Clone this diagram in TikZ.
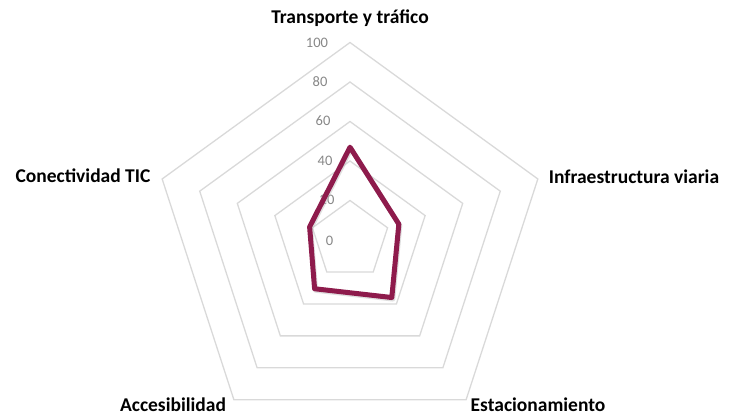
\documentclass[tikz,border=0pt]{standalone}
\usepackage{fontspec}
\setmainfont{Carlito}
\definecolor{gridgray}{RGB}{217,217,217}
\definecolor{numgray}{RGB}{135,135,135}
\definecolor{dataline}{RGB}{142,27,76}
\begin{document}
\begin{tikzpicture}[x=1pt,y=1pt,
  gridline/.style={draw=gridgray,line width=1.3pt,line join=miter},
  numlbl/.style={text=numgray,font=\fontsize{14.5}{16}\selectfont,inner sep=0pt},
  axlbl/.style={text=black,font=\bfseries\fontsize{19.5}{22}\selectfont,inner sep=0pt},
  dataline/.style={draw=dataline,line width=5pt,line join=round}]
\useasboundingbox (-350,-176) rectangle (385,240);
% grid pentagons
\foreach \lv in {1,...,5}{
  \pgfmathsetmacro{\rr}{\lv*39.5}
  \draw[gridline] (90:\rr) -- (18:\rr) -- (-54:\rr) -- (-126:\rr) -- (162:\rr) -- cycle;
}
% axis value labels
\node[numlbl] (n100) at (-33,197) {100};
\node[numlbl] (n80) at (-30,158) {80};
\node[numlbl] (n60) at (-27,119) {60};
\node[numlbl] (n40) at (-25,79) {40};
\node[numlbl] (n20) at (-23,40) {20};
\node[numlbl] (n0) at (-20.5,-1) {0};
% category labels
\node[axlbl] (ltop) at (0,222) {Transporte y tráfico};
\node[axlbl] (lright) at (284,63) {Infraestructura viaria};
\node[axlbl] (lbr) at (188,-164.5) {Estacionamiento};
\node[axlbl] (lbl) at (-177,-164.5) {Accesibilidad};
\node[axlbl] (lleft) at (-267,64) {Conectividad TIC};
% data
\coordinate (d0) at (90:{47*1.975});
\coordinate (d1) at (18:{26*1.975});
\coordinate (d2) at (-54:{36*1.975});
\coordinate (d3) at (-126:{30.5*1.975});
\coordinate (d4) at (162:{21.5*1.975});
\draw[draw=black!25,line width=5pt,line join=round,opacity=0.5,transform canvas={xshift=1pt,yshift=-1.5pt}] (d0) -- (d1) -- (d2) -- (d3) -- (d4) -- cycle;
\draw[dataline] (d0) -- (d1) -- (d2) -- (d3) -- (d4) -- cycle;
\end{tikzpicture}
\end{document}
